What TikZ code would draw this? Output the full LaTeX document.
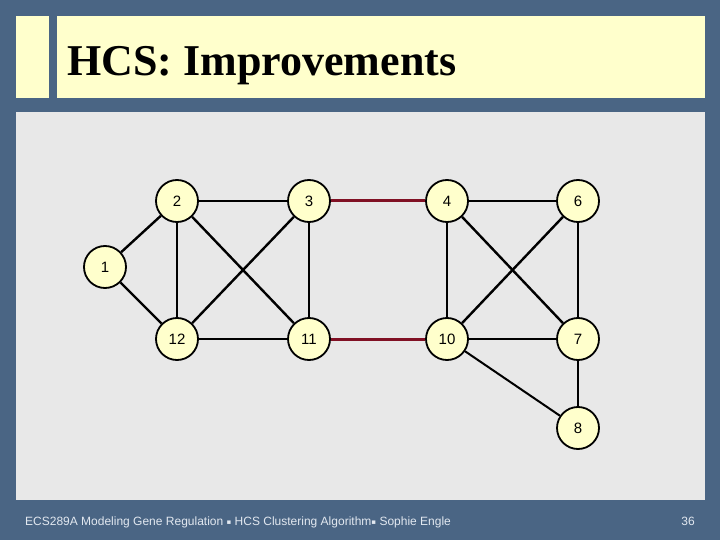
\documentclass[tikz,border=0pt]{standalone}
\usepackage{fontspec}
\setmainfont{Liberation Sans}
\newfontfamily\titlefont{Liberation Serif}
\newfontfamily\symfont{DejaVu Sans}
\definecolor{slate}{RGB}{74,101,132}
\definecolor{titlebg}{RGB}{255,255,204}
\definecolor{panel}{RGB}{232,232,232}
\definecolor{nodefill}{RGB}{255,255,204}
\definecolor{redge}{RGB}{128,16,36}
\definecolor{foot}{RGB}{226,232,240}
\newcommand{\footsep}{{\symfont\fontsize{7}{8}\selectfont\raisebox{1pt}{▪}}}
\begin{document}
\begin{tikzpicture}[x=1pt,y=-1pt,
  vtx/.style={circle,draw=black,line width=1.8pt,fill=nodefill,minimum size=42pt,inner sep=0pt,font=\fontsize{15}{17}\selectfont},
  edge/.style={line width=2.4pt,black},
  redg/.style={line width=3pt,redge}]
\useasboundingbox (0,0) rectangle (720,540);
\fill[slate] (0,0) rectangle (720,540);
\fill[titlebg] (16,16) rectangle (49,98);
\fill[titlebg] (57,16) rectangle (705,98);
\node[anchor=base west,inner sep=0pt,font=\titlefont\bfseries\fontsize{44}{48}\selectfont] (title) at (67,76) {HCS: Improvements};
\fill[panel] (16,112) rectangle (705,500);
\node[vtx] (n2) at (177,201) {2};
\node[vtx] (n3) at (309,201) {3};
\node[vtx] (n4) at (447,201) {4};
\node[vtx] (n6) at (578,201) {6};
\node[vtx] (n1) at (105,267) {1};
\node[vtx] (n12) at (177,339) {12};
\node[vtx] (n11) at (309,339) {11};
\node[vtx] (n10) at (447,339) {10};
\node[vtx] (n7) at (578,339) {7};
\node[vtx] (n8) at (578,428) {8};
\draw[edge] (n1) -- (n2);
\draw[edge] (n1) -- (n12);
\draw[edge] (n2) -- (n3);
\draw[edge] (n2) -- (n12);
\draw[edge] (n2) -- (n11);
\draw[edge] (n3) -- (n12);
\draw[edge] (n3) -- (n11);
\draw[edge] (n12) -- (n11);
\draw[redg] (n3) -- (n4);
\draw[redg] (n11) -- (n10);
\draw[edge] (n4) -- (n6);
\draw[edge] (n4) -- (n10);
\draw[edge] (n4) -- (n7);
\draw[edge] (n6) -- (n10);
\draw[edge] (n6) -- (n7);
\draw[edge] (n10) -- (n7);
\draw[edge,line width=2pt] (n10) -- (n8);
\draw[edge] (n7) -- (n8);
\node[anchor=base west,inner sep=0pt,text=foot,font=\fontsize{12}{14}\selectfont] (footer) at (25,525) {ECS289A Modeling Gene Regulation \footsep{} HCS Clustering Algorithm\footsep{} Sophie Engle};
\node[anchor=base east,inner sep=0pt,text=foot,font=\fontsize{12}{14}\selectfont] (page) at (695,525) {36};
\end{tikzpicture}
\end{document}
